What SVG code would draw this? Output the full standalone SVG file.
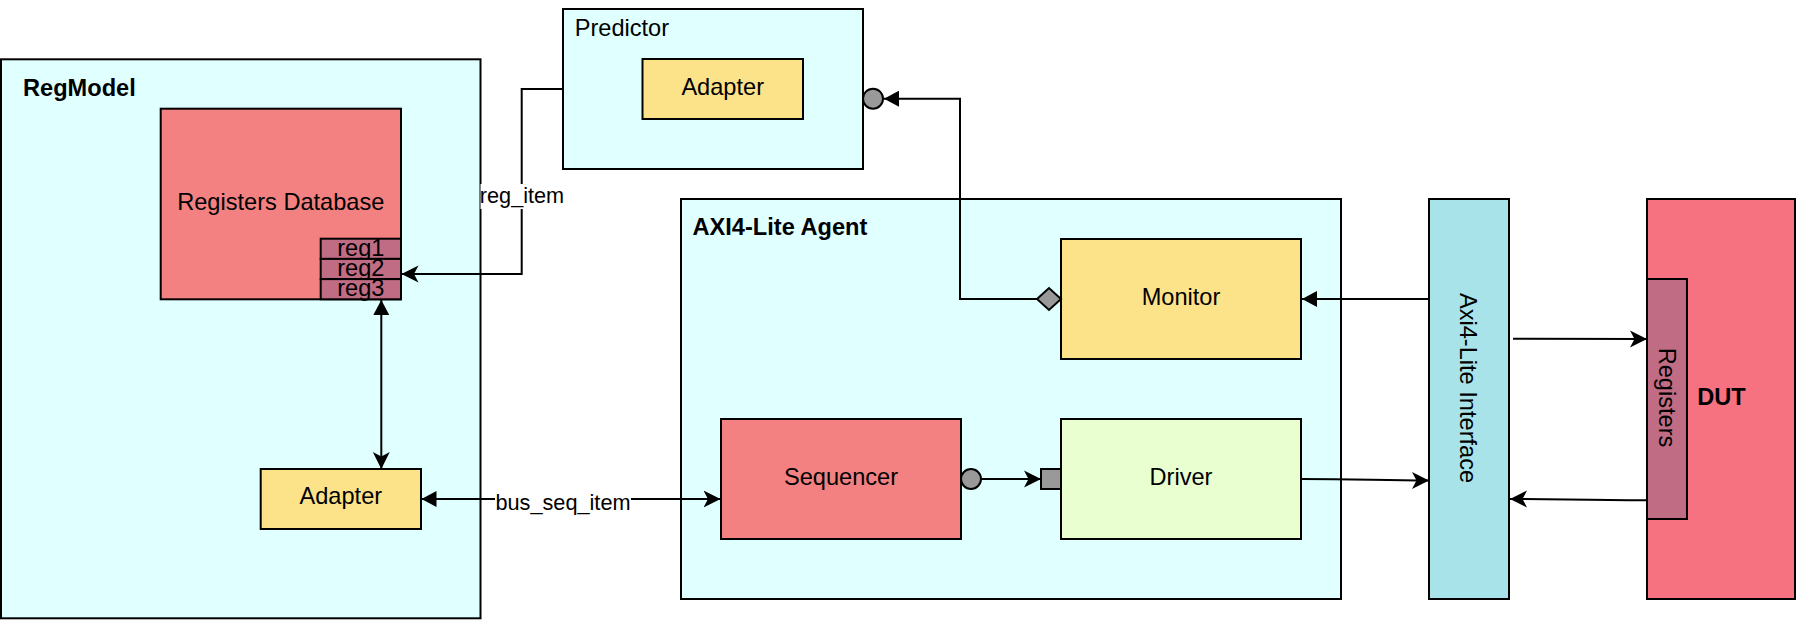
<svg xmlns="http://www.w3.org/2000/svg" width="1798" height="622" viewBox="0 0 1798 622">
  <style>
    .box { stroke: #000; stroke-width: 2; }
    .cyan { fill: #E0FFFF; }
    .coral { fill: #F38181; }
    .yellow { fill: #FCE38A; }
    .green { fill: #EAFFD0; }
    .plum { fill: #C06C84; }
    .iface { fill: #A8E3E9; }
    .dut { fill: #F67280; }
    .port { fill: #999999; stroke: #000; stroke-width: 2; }
    .t { font-family: "Liberation Sans", Arial, sans-serif; font-size: 23.6px; fill: #000; }
    .c { text-anchor: middle; }
    .b { font-weight: bold; }
    .lbl { font-family: "Liberation Sans", Arial, sans-serif; font-size: 21.7px; fill: #000; text-anchor: middle; }
    .edge { fill: none; stroke: #000; stroke-width: 2; }
    .lblbg { fill: #FFFFFF; }
  </style>
  <defs>
    <marker id="classic" markerUnits="userSpaceOnUse" viewBox="0 0 18 18" markerWidth="18" markerHeight="18" refX="17" refY="9" orient="auto">
      <path d="M17,9 L0,0.5 L4.5,9 L0,17.5 Z" fill="#000"/>
    </marker>
    <marker id="block" markerUnits="userSpaceOnUse" viewBox="0 0 16 16" markerWidth="16" markerHeight="16" refX="15" refY="8" orient="auto">
      <path d="M15,8 L0,0 L0,16 Z" fill="#000"/>
    </marker>
    <marker id="blockStart" markerUnits="userSpaceOnUse" viewBox="0 0 16 16" markerWidth="16" markerHeight="16" refX="15" refY="8" orient="auto-start-reverse">
      <path d="M15,8 L0,0 L0,16 Z" fill="#000"/>
    </marker>
  </defs>

  <g id="regmodel">
    <rect class="box cyan" x="1" y="59.3" width="479.5" height="559"/>
    <text class="t b" x="23" y="96">RegModel</text>
  </g>
  <g id="registers-database">
    <rect class="box coral" x="160.7" y="108.7" width="240.3" height="190.6"/>
    <text class="t c" x="280.8" y="210">Registers Database</text>
  </g>
  <g id="reg1">
    <rect class="box plum" x="320.7" y="238.7" width="80.3" height="20.2"/>
    <text class="t c" x="360.8" y="256">reg1</text>
  </g>
  <g id="reg2">
    <rect class="box plum" x="320.7" y="258.9" width="80.3" height="20.2"/>
    <text class="t c" x="360.8" y="276.2">reg2</text>
  </g>
  <g id="reg3">
    <rect class="box plum" x="320.7" y="279.1" width="80.3" height="20.2"/>
    <text class="t c" x="360.8" y="296.4">reg3</text>
  </g>
  <g id="regmodel-adapter">
    <rect class="box yellow" x="260.7" y="469" width="160.3" height="60"/>
    <text class="t c" x="340.8" y="504">Adapter</text>
  </g>

  <g id="predictor">
    <rect class="box cyan" x="563" y="9" width="300" height="160"/>
    <text class="t" x="574.7" y="36">Predictor</text>
  </g>
  <g id="predictor-adapter">
    <rect class="box yellow" x="642.5" y="59" width="160.5" height="60"/>
    <text class="t c" x="722.7" y="95">Adapter</text>
  </g>

  <g id="axi4-lite-agent">
    <rect class="box cyan" x="681" y="199" width="660" height="400"/>
    <text class="t b" x="692.5" y="235">AXI4-Lite Agent</text>
  </g>
  <g id="monitor">
    <rect class="box yellow" x="1061" y="239" width="240" height="120"/>
    <text class="t c" x="1181" y="304.5">Monitor</text>
  </g>
  <g id="sequencer">
    <rect class="box coral" x="721" y="419" width="240" height="120"/>
    <text class="t c" x="841" y="484.5">Sequencer</text>
  </g>
  <g id="driver">
    <rect class="box green" x="1061" y="419" width="240" height="120"/>
    <text class="t c" x="1181" y="484.5">Driver</text>
  </g>

  <g id="axi4-lite-interface">
    <rect class="box iface" x="1429" y="199" width="80" height="400"/>
    <text class="t c" transform="translate(1468.5,388) rotate(90)" x="0" y="8.5">Axi4-Lite Interface</text>
  </g>

  <g id="dut">
    <rect class="box dut" x="1647" y="199" width="148" height="400"/>
    <text class="t c b" x="1721.5" y="404.5">DUT</text>
  </g>
  <g id="dut-registers">
    <rect class="box plum" x="1647" y="279" width="40" height="240"/>
    <text class="t c" transform="translate(1667.3,397.5) rotate(90)" x="0" y="8.5">Registers</text>
  </g>

  <g id="connectors">
    <!-- Predictor -> reg2 (reg_item) -->
    <path class="edge" d="M563,89 H521.7 V274 H401.5" marker-end="url(#classic)"/>
    <rect class="lblbg" x="480.5" y="184" width="84.5" height="25"/>
    <text class="lbl" x="522" y="203.3">reg_item</text>

    <!-- reg3 <-> RegModel Adapter -->
    <path class="edge" d="M381.3,300 V469" marker-start="url(#blockStart)" marker-end="url(#classic)"/>

    <!-- Adapter <-> Sequencer (bus_seq_item) -->
    <path class="edge" d="M421.5,499 H720.5" marker-start="url(#blockStart)" marker-end="url(#classic)"/>
    <rect class="lblbg" x="495" y="490" width="136" height="28"/>
    <text class="lbl" x="563" y="510">bus_seq_item</text>

    <!-- Monitor analysis port -> Predictor -->
    <path class="edge" d="M1037,299 H960 V98.7 H884" marker-end="url(#block)"/>
    <polygon class="port" points="1037,299 1049,288 1061,299 1049,310"/>
    <circle class="port" cx="873" cy="98.7" r="10"/>

    <!-- Interface -> Monitor -->
    <path class="edge" d="M1429,299 H1302" marker-end="url(#block)"/>

    <!-- Sequencer -> Driver -->
    <circle class="port" cx="971" cy="479" r="10"/>
    <path class="edge" d="M981,479 H1041" marker-end="url(#classic)"/>
    <rect class="port" x="1041" y="469" width="20" height="20"/>

    <!-- Driver -> Interface -->
    <path class="edge" d="M1301,479 C1360,479 1380,480.5 1429,480.5" marker-end="url(#classic)"/>

    <!-- Interface -> DUT Registers -->
    <path class="edge" d="M1513,338.7 L1647,339" marker-end="url(#classic)"/>

    <!-- DUT Registers -> Interface -->
    <path class="edge" d="M1647,500.3 C1580,500.3 1560,499 1510,499" marker-end="url(#classic)"/>
  </g>
</svg>
